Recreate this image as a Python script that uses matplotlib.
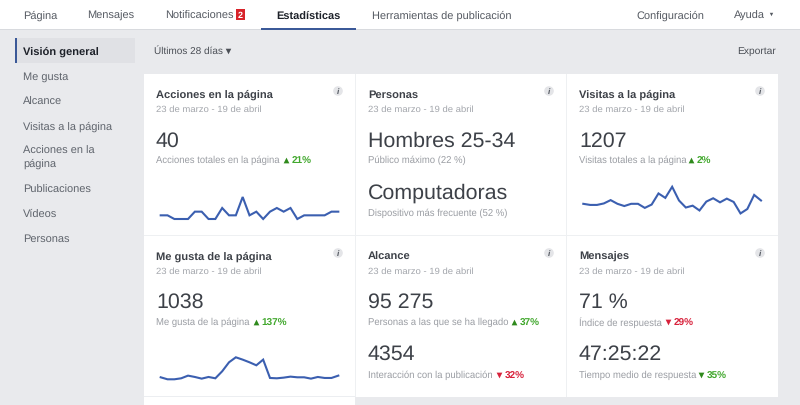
from matplotlib import pyplot as plt
from matplotlib.patches import Circle, Rectangle

plt.rcParams['font.family'] = ['Liberation Sans', 'DejaVu Sans']
plt.rcParams['text.hinting'] = 'no_hinting'

nav_left = ['Página', 'Mensajes', 'Notificaciones', 'Estadísticas', 'Herramientas de publicación']
nav_right = ['Configuración', 'Ayuda']
side_items = ['Visión general', 'Me gusta', 'Alcance', 'Visitas a la página',
              'Acciones en la\npágina', 'Publicaciones', 'Vídeos', 'Personas']
date_range = '23 de marzo - 19 de abril'

# daily values
acciones = [1, 1, 0, 0, 0, 2, 2, 0, 0, 3, 1, 1, 6, 1, 2, 0, 2, 3, 2, 3, 0, 1, 1, 1, 1, 2, 2]
visitas = [41, 38, 38, 42, 51, 41, 35, 41, 41, 30, 39, 69, 57, 87, 50, 31, 36, 23, 47, 56, 45, 55, 46, 15, 27, 65, 50]
me_gusta = [30, 18, 18, 24, 40, 32, 22, 32, 24, 66, 120, 150, 136, 120, 102, 136, 26, 24, 28, 34, 30, 30, 22, 32, 26, 26, 40]

BG = '#e9eaed'
DARK = '#4b4f56'
BLUE = '#3b5fb0'
GREEN = '#42a82e'
RED = '#d8223c'

fig = plt.figure(figsize=(8, 4.06), dpi=100, facecolor=BG)
ax = fig.add_axes([0, 0, 1, 1])
ax.set_xlim(0, 800)
ax.set_ylim(406, 0)
ax.axis('off')


def box(x0, y0, x1, y1, color, z=1):
    ax.add_patch(Rectangle((x0, y0), x1 - x0, y1 - y0, facecolor=color, edgecolor='none', zorder=z))


def txt(x, y, s, size=7.9, color=DARK, weight='normal', ha='left', va='center', **kw):
    ax.text(x, y + 0.7, s, fontsize=size, color=color, fontweight=weight, ha=ha, va=va, zorder=5, **kw)


# top bar
box(0, 0, 800, 30, 'white')
box(0, 30, 800, 31, '#d8dade')
box(261, 28.5, 356, 31, '#3b5998', 3)
for x, s in zip([23, 87, 165, 276, 372], nav_left):
    if s == 'Estadísticas':
        txt(x, 15, s, weight='bold', color='#1d2129', size=7.9)
    else:
        txt(x, 15, s, color='#555a62', size=7.9)
box(236, 9.5, 245, 21, '#d8232a', 3)
txt(240.5, 14.7, '2', size=6.5, color='white', weight='bold', ha='center')
for x, s in zip([636, 734], nav_right):
    txt(x, 15, s, color='#555a62', size=7.9)
ax.scatter([771], [15], marker='v', s=6, color='#555a62', linewidths=0, zorder=5)

# sidebar
box(15, 39, 135, 64, '#e0e1e5')
box(15, 39, 17, 64, '#3b5998', 3)
for y, s in zip([51, 76, 101, 126, 157, 189, 213, 238], side_items):
    if s == 'Visión general':
        txt(23, y, s, weight='bold', color='#1d2129', size=8.0)
    else:
        txt(23, y, s, color='#5f646c', size=7.9, linespacing=1.3)

txt(154, 51, 'Últimos 28 días', size=7.2, color=DARK)
ax.scatter([228], [51.5], marker='v', s=16, color=DARK, linewidths=0, zorder=5)
txt(776, 51, 'Exportar', size=7.4, color=DARK, ha='right')

# cards
box(144, 75, 778, 398, 'white')
box(144, 398, 355, 406, 'white')
box(144, 397, 355, 398, '#eceef1', 2)
box(355, 75, 356, 398, '#eef0f2', 2)
box(566, 75, 567, 398, '#eef0f2', 2)
box(144, 236, 778, 237, '#eef0f2', 2)

card_x = [156, 368, 579]
titles = [['Acciones en la página', 'Personas', 'Visitas a la página'],
          ['Me gusta de la página', 'Alcance', 'Mensajes']]
for row, y0 in enumerate([94, 256]):
    for x, title, ix in zip(card_x, titles[row], [338, 549, 760]):
        txt(x, y0, title, weight='bold', size=8.05, color='#3d4148')
        txt(x, y0 + 14.5, date_range, size=6.8, color='#a3a6ac')
        ax.add_patch(Circle((ix, y0 - 2), 4.8, facecolor='#e4e5e8', edgecolor='none', zorder=3))
        txt(ix, y0 - 2.7, 'i', size=6, color='#555a62', ha='center', style='italic', weight='bold')

# big figures: x, y, text
big = [(156, 141, '40'), (368, 141, 'Hombres 25-34'), (368, 193, 'Computadoras'),
       (579, 141, '1207'), (156, 302, '1038'), (368, 302, '95 275'),
       (368, 354, '4354'), (579, 302, '71 %'), (579, 354, '47:25:22')]
for x, y, s in big:
    txt(x, y, s, size=15.4, color='#3d4148')

# small captions: x, y, text
subs = [(156, 160, 'Acciones totales en la página'), (368, 160, 'Público máximo (22 %)'),
        (368, 213, 'Dispositivo más frecuente (52 %)'), (579, 160, 'Visitas totales a la página'),
        (156, 322, 'Me gusta de la página'), (368, 322, 'Personas a las que se ha llegado'),
        (368, 375, 'Interacción con la publicación'), (579, 322, 'Índice de respuesta'),
        (579, 375, 'Tiempo medio de respuesta')]
for x, y, s in subs:
    txt(x, y, s, size=6.85, color='#9a9da3')

# deltas: triangle x, y, label, up/down, colour
deltas = [(286, 160, '21%', '^', GREEN), (691, 160, '2%', '^', GREEN), (256, 322, '137%', '^', GREEN),
          (514, 322, '37%', '^', GREEN), (668, 322, '29%', 'v', RED), (499, 375, '32%', 'v', RED),
          (701, 375, '35%', 'v', GREEN)]
for x, y, s, m, c in deltas:
    ax.scatter([x], [y + 0.5], marker=m, s=17, color='#2f8a1c' if c == GREEN else c, linewidths=0, zorder=5)
    txt(x + 5.5, y + 0.8, s, size=7.2, color=c, weight='bold')


def spark(vals, x0, x1, top, bottom, y_lo, y_hi):
    # axes placed in pixels, y limits chosen so the line sits where it does in the page
    a = fig.add_axes([x0 / 800, 1 - bottom / 406, (x1 - x0) / 800, (bottom - top) / 406])
    a.patch.set_alpha(0)
    a.axis('off')
    a.plot(range(len(vals)), vals, color=BLUE, lw=1.5, solid_joinstyle='miter', clip_on=False)
    a.set_xlim(0, len(vals) - 1)
    a.set_ylim(y_lo, y_hi)


spark(acciones, 160.7, 338.3, 190, 220, 0, 30 / 3.67)
spark(visitas, 583.3, 761, 180, 220, 0, 40 * 2.7)
spark(me_gusta, 160.7, 338.3, 350, 383.3, 0, 33.3 * 6)

fig.savefig('out.png', dpi=100, facecolor=BG)
